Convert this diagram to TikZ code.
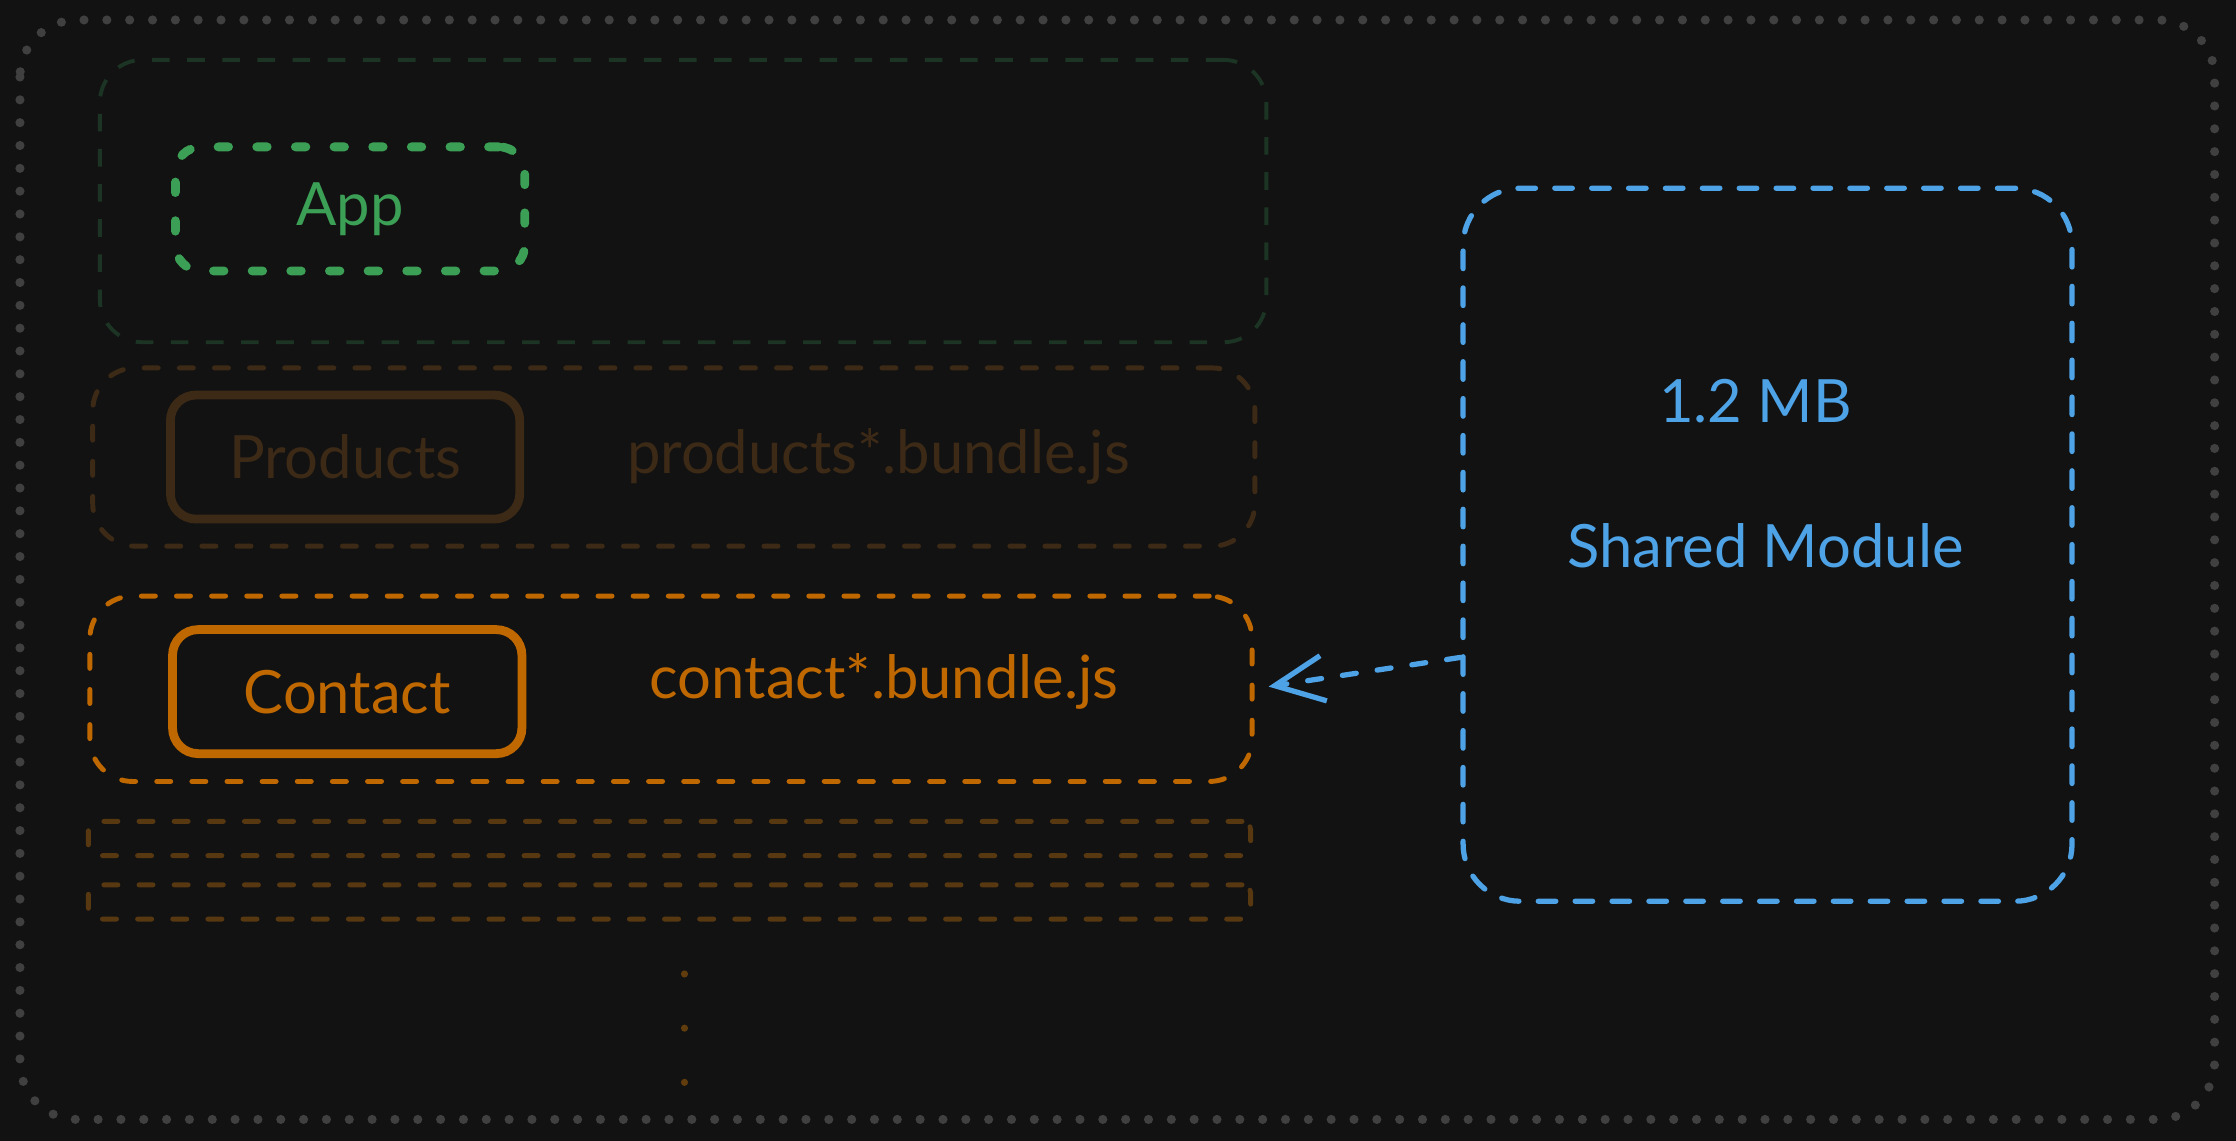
\documentclass[tikz,border=0pt]{standalone}
\usepackage{fontspec}
\setmainfont{Lato}
\usepackage{xcolor}
\usetikzlibrary{arrows.meta}

\definecolor{bgdark}{HTML}{121212}
\definecolor{frame}{HTML}{404040}
\definecolor{appgreen}{HTML}{3C9F56}
\definecolor{appdim}{HTML}{1C3424}
\definecolor{proddim}{HTML}{3D2A16}
\definecolor{contorange}{HTML}{C06800}
\definecolor{stripbrown}{HTML}{573810}
\definecolor{sharedblue}{HTML}{4EA2E6}

\newcommand{\pxu}{0.01426cm}

\begin{document}
\begin{tikzpicture}[x=0.01426cm, y=-0.01426cm]
    \tikzstyle{group} = [rectangle, draw, rounded corners=30*\pxu, line width=1.4pt, inner sep=0pt]
    \tikzstyle{module} = [rectangle, draw, rounded corners=18*\pxu, line width=2.5pt, inner sep=0pt,
        minimum width=245*\pxu, minimum height=87*\pxu, font=\fontsize{17}{20}\selectfont]
    \tikzstyle{label} = [font=\fontsize{17}{20}\selectfont, inner sep=0pt]
    \tikzstyle{dashy} = [dash pattern=on 4pt off 6pt, line cap=round]

    % background and frame
    \fill[bgdark] (0,0) rectangle (1568,800);
    \useasboundingbox (0,0) rectangle (1568,800);
    \draw[frame, line width=2.6pt, line cap=round, dash pattern=on 0pt off 6.5pt, rounded corners=40*\pxu]
        (14,14) rectangle (1553,785);

    % app shell
    \node[group, draw=appdim, line width=1.1pt, dash pattern=on 5pt off 5pt,
        minimum width=818*\pxu, minimum height=198*\pxu] (appgrp) at (479,141) {};
    \node[module, draw=appgreen, text=appgreen, line cap=round, dash pattern=on 3pt off 8pt] (app) at (245.5,146.5) {App};

    % products chunk
    \node[group, draw=proddim, dashy, minimum width=815*\pxu, minimum height=125*\pxu] (prodgrp) at (472.5,320.5) {};
    \node[module, draw=proddim, text=proddim] (prod) at (242,320.5) {Products};
    \node[label, text=proddim] (prodjs) at (616,320) {products*.bundle.js};

    % contact chunk
    \node[group, draw=contorange, dashy, minimum width=815*\pxu, minimum height=130*\pxu] (contgrp) at (470.5,483) {};
    \node[module, draw=contorange, text=contorange] (cont) at (243.5,485) {Contact};
    \node[label, text=contorange] (contjs) at (620,478) {contact*.bundle.js};

    % more chunks
    \foreach \y/\n in {588/stripa, 632.5/stripb} {
        \node[group, draw=stripbrown, dashy, rounded corners=6*\pxu, minimum width=815*\pxu, minimum height=24*\pxu] (\n) at (469.5,\y) {};
    }
    \foreach \y in {683, 721, 759} {
        \fill[stripbrown!90!contorange] (480,\y) circle (2.5);
    }

    % shared module
    \node[group, draw=sharedblue, dashy, line width=1.5pt, dash pattern=on 5pt off 5.5pt, rounded corners=40*\pxu,
        minimum width=427*\pxu, minimum height=500*\pxu] (shared) at (1239.5,382) {};
    \node[label, text=sharedblue] (size) at (1231,281) {1.2 MB};
    \node[label, text=sharedblue] (sharedtxt) at (1238,383) {Shared Module};

    \coordinate (src) at (shared.west |- 0,461);
    \draw[sharedblue, line width=1.5pt, dashy, -{Straight Barb[length=14pt,width=13pt,line width=1.5pt]}, shorten >=10*\pxu]
        (src) -- (contgrp.east);
\end{tikzpicture}
\end{document}
